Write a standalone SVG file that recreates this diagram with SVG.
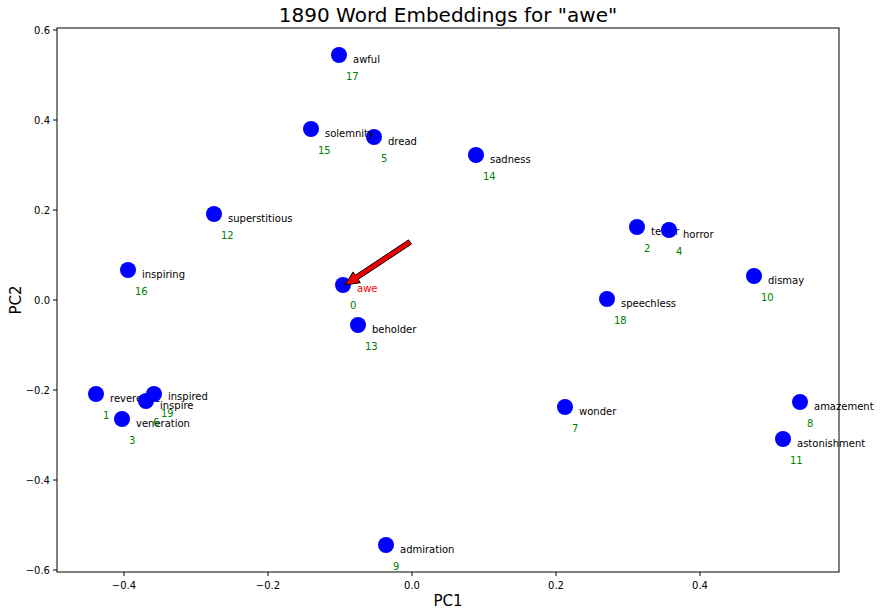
<svg xmlns="http://www.w3.org/2000/svg" width="880" height="615" viewBox="0 0 880 615">
<style>
text{font-family:"DejaVu Sans",sans-serif}
.d{fill:#0000ff}
.w{font-size:10px;fill:#000}
.n{font-size:10px;fill:#008000}
.t{font-size:10px;fill:#000}
.k{stroke:#000;stroke-width:1}
</style>
<rect width="880" height="615" fill="#fff"/>
<text x="448" y="22" font-size="20" text-anchor="middle">1890 Word Embeddings for "awe"</text>
<rect x="57" y="28" width="782" height="544" fill="none" stroke="#000" stroke-width="1"/>
<g id="xticks">
<path class="k" d="M124 572v4M268 572v4M412 572v4M556 572v4M700 572v4"/>
<text class="t" x="124" y="589" text-anchor="middle">−0.4</text>
<text class="t" x="268" y="589" text-anchor="middle">−0.2</text>
<text class="t" x="412" y="589" text-anchor="middle">0.0</text>
<text class="t" x="556" y="589" text-anchor="middle">0.2</text>
<text class="t" x="700" y="589" text-anchor="middle">0.4</text>
</g>
<g id="yticks">
<path class="k" d="M57 30h-4M57 120h-4M57 210h-4M57 300h-4M57 390h-4M57 480h-4M57 570h-4"/>
<text class="t" x="50" y="34" text-anchor="end">0.6</text>
<text class="t" x="50" y="124" text-anchor="end">0.4</text>
<text class="t" x="50" y="214" text-anchor="end">0.2</text>
<text class="t" x="50" y="304" text-anchor="end">0.0</text>
<text class="t" x="50" y="394" text-anchor="end">−0.2</text>
<text class="t" x="50" y="484" text-anchor="end">−0.4</text>
<text class="t" x="50" y="574" text-anchor="end">−0.6</text>
</g>
<text x="448" y="606" font-size="15" text-anchor="middle">PC1</text>
<text x="21" y="300" font-size="15" text-anchor="middle" transform="rotate(-90 21 300)">PC2</text>
<g id="nodes">
<g id="n0"><circle class="d" cx="343" cy="285" r="8"/><text class="w" x="357" y="292" fill="#ff0000" style="fill:#ff0000">awe</text><text class="n" x="350" y="309">0</text></g>
<g id="n1"><circle class="d" cx="96" cy="394" r="8"/><text class="w" x="110" y="402">reverence</text><text class="n" x="103" y="419">1</text></g>
<g id="n2"><circle class="d" cx="637" cy="227" r="8"/><text class="w" x="651" y="235">terror</text><text class="n" x="644" y="252">2</text></g>
<g id="n3"><circle class="d" cx="122" cy="419" r="8"/><text class="w" x="136" y="427">veneration</text><text class="n" x="129" y="444">3</text></g>
<g id="n4"><circle class="d" cx="669" cy="230" r="8"/><text class="w" x="683" y="238">horror</text><text class="n" x="676" y="255">4</text></g>
<g id="n5"><circle class="d" cx="374" cy="137" r="8"/><text class="w" x="388" y="145">dread</text><text class="n" x="381" y="162">5</text></g>
<g id="n6"><circle class="d" cx="146" cy="401" r="8"/><text class="w" x="160" y="409">inspire</text><text class="n" x="153" y="426">6</text></g>
<g id="n7"><circle class="d" cx="565" cy="407" r="8"/><text class="w" x="579" y="415">wonder</text><text class="n" x="572" y="432">7</text></g>
<g id="n8"><circle class="d" cx="800" cy="402" r="8"/><text class="w" x="814" y="410">amazement</text><text class="n" x="807" y="427">8</text></g>
<g id="n9"><circle class="d" cx="386" cy="545" r="8"/><text class="w" x="400" y="553">admiration</text><text class="n" x="393" y="570">9</text></g>
<g id="n10"><circle class="d" cx="754" cy="276" r="8"/><text class="w" x="768" y="284">dismay</text><text class="n" x="761" y="301">10</text></g>
<g id="n11"><circle class="d" cx="783" cy="439" r="8"/><text class="w" x="797" y="447">astonishment</text><text class="n" x="790" y="464">11</text></g>
<g id="n12"><circle class="d" cx="214" cy="214" r="8"/><text class="w" x="228" y="222">superstitious</text><text class="n" x="221" y="239">12</text></g>
<g id="n13"><circle class="d" cx="358" cy="325" r="8"/><text class="w" x="372" y="333">beholder</text><text class="n" x="365" y="350">13</text></g>
<g id="n14"><circle class="d" cx="476" cy="155" r="8"/><text class="w" x="490" y="163">sadness</text><text class="n" x="483" y="180">14</text></g>
<g id="n15"><circle class="d" cx="311" cy="129" r="8"/><text class="w" x="325" y="137">solemnity</text><text class="n" x="318" y="154">15</text></g>
<g id="n16"><circle class="d" cx="128" cy="270" r="8"/><text class="w" x="142" y="278">inspiring</text><text class="n" x="135" y="295">16</text></g>
<g id="n17"><circle class="d" cx="339" cy="55" r="8"/><text class="w" x="353" y="63">awful</text><text class="n" x="346" y="80">17</text></g>
<g id="n18"><circle class="d" cx="607" cy="299" r="8"/><text class="w" x="621" y="307">speechless</text><text class="n" x="614" y="324">18</text></g>
<g id="n19"><circle class="d" cx="154" cy="394" r="8"/><text class="w" x="168" y="400">inspired</text><text class="n" x="161" y="417">19</text></g>
</g>
<g id="connectors">
<polygon points="408.6,239.9 355.3,275.2 353.1,271.9 345,285 360.3,282.7 358.1,279.4 411.4,244.1" fill="#ee0000" stroke="#000" stroke-width="1"/>
</g>
</svg>
